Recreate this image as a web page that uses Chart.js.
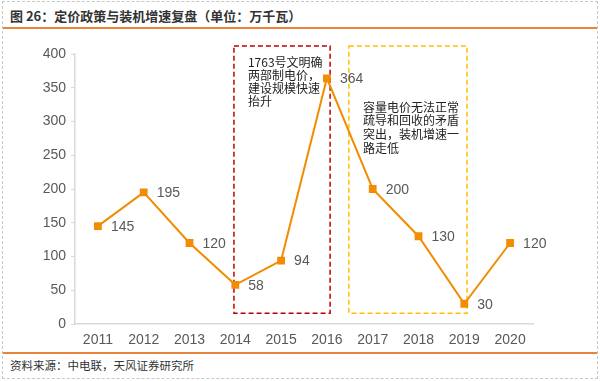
<!DOCTYPE html>
<html>
<head>
<meta charset="utf-8">
<script src="https://cdn.jsdelivr.net/npm/chart.js@4/dist/chart.umd.min.js"></script>
<style>
  html, body { margin: 0; padding: 0; background: #fff; }
  body { width: 600px; height: 381px; position: relative; overflow: hidden;
         font-family: "Noto Sans CJK SC", "Noto Sans", sans-serif; }
  #frame { position: absolute; left: 2px; top: 1px; width: 594px; height: 376px;
           border: 1px dashed #c8c8c8; }
  #title { position: absolute; left: 10px; top: 6px; font-size: 13px; font-weight: bold;
           color: #333; white-space: nowrap; }
  #titleLine { position: absolute; left: 3px; top: 27px; width: 594px; height: 2px; background: #E8833A; }
  #footLine { position: absolute; left: 3px; top: 352px; width: 594px; height: 2px; background: #E8833A; }
  #foot { position: absolute; left: 10px; top: 357px; font-size: 11.5px; color: #333; white-space: nowrap; }
  #wrap { position: absolute; left: 0; top: 30px; width: 600px; height: 322px; }
</style>
</head>
<body>
<div id="frame"></div>
<div id="title">图 26：定价政策与装机增速复盘（单位：万千瓦）</div>
<div id="titleLine"></div>
<div id="wrap"><canvas id="chart" width="600" height="322"></canvas></div>
<div id="footLine"></div>
<div id="foot">资料来源：中电联，天风证券研究所</div>
<script>
(function () {
  "use strict";

  var YEARS = ["2011", "2012", "2013", "2014", "2015", "2016", "2017", "2018", "2019", "2020"];
  var ADDED = [145, 195, 120, 58, 94, 364, 200, 130, 30, 120];
  var Y_TICKS = [0, 50, 100, 150, 200, 250, 300, 350, 400];

  var NOTE_RED = ["1763号文明确", "两部制电价，", "建设规模快速", "抬升"];
  var NOTE_YELLOW = ["容量电价无法正常", "疏导和回收的矛盾", "突出，装机增速一", "路走低"];

  var LINE_COLOR = "#F28C00";
  var LABEL_COLOR = "#595959";

  // boxes in category/value units
  var BOXES = [
    { from: 2.97, to: 5.07, lo: 16, hi: 412, color: "#C00000", text: NOTE_RED, textY: 388, lineH: 13.2 },
    { from: 5.48, to: 8.06, lo: 16, hi: 412, color: "#FFC000", text: NOTE_YELLOW, textY: 321, lineH: 13.6 }
  ];

  var pointLabels = {
    id: "pointLabels",
    afterDatasetsDraw: function (chart) {
      var ctx = chart.ctx;
      var meta = chart.getDatasetMeta(0);
      ctx.save();
      ctx.font = "14px 'Liberation Sans', Arial, sans-serif";
      ctx.fillStyle = LABEL_COLOR;
      ctx.textAlign = "left";
      ctx.textBaseline = "middle";
      meta.data.forEach(function (pt, i) {
        ctx.fillText(String(ADDED[i]), pt.x + 13, pt.y + 1);
      });
      ctx.restore();
    }
  };

  var noteBoxes = {
    id: "noteBoxes",
    beforeDatasetsDraw: function (chart) {
      var ctx = chart.ctx;
      var xs = chart.scales.x, ys = chart.scales.y;
      var step = xs.getPixelForValue(1) - xs.getPixelForValue(0);
      ctx.save();
      BOXES.forEach(function (b) {
        var x0 = xs.getPixelForValue(0) + b.from * step;
        var x1 = xs.getPixelForValue(0) + b.to * step;
        var y0 = ys.getPixelForValue(b.hi);
        var y1 = ys.getPixelForValue(b.lo);
        ctx.strokeStyle = b.color;
        ctx.lineWidth = 1.5;
        ctx.setLineDash([5, 3]);
        ctx.strokeRect(x0, y0, x1 - x0, y1 - y0);
        ctx.setLineDash([]);
        ctx.fillStyle = "#222";
        ctx.font = "12px 'Noto Sans CJK SC', sans-serif";
        ctx.textAlign = "left";
        ctx.textBaseline = "middle";
        var ty = ys.getPixelForValue(b.textY);
        for (var i = 0; i < b.text.length; i++) {
          ctx.fillText(b.text[i], x0 + 14, ty + i * b.lineH);
        }
      });
      ctx.restore();
    }
  };

  new Chart(document.getElementById("chart").getContext("2d"), {
    type: "line",
    data: {
      labels: YEARS,
      datasets: [{
        data: ADDED,
        borderColor: LINE_COLOR,
        backgroundColor: LINE_COLOR,
        borderWidth: 2,
        pointStyle: "rect",
        pointRadius: 5.5,
        pointBorderWidth: 0,
        tension: 0
      }]
    },
    options: {
      responsive: false,
      animation: false,
      events: [],
      layout: { padding: { top: 24, right: 67, left: 0, bottom: 0 } },
      plugins: { legend: { display: false }, tooltip: { enabled: false } },
      scales: {
        x: {
          offset: true,
          grid: { display: false, drawTicks: false },
          border: { color: "#d9d9d9", width: 1.5 },
          ticks: { color: LABEL_COLOR, padding: 8, font: { size: 14, family: "'Liberation Sans', Arial, sans-serif" } },
          afterFit: function (s) { s.height = 28; }
        },
        y: {
          min: 0,
          max: 400,
          afterBuildTicks: function (s) { s.ticks = Y_TICKS.map(function (v) { return { value: v }; }); },
          grid: { drawOnChartArea: false, tickLength: 4, color: "#d9d9d9" },
          border: { color: "#d9d9d9", width: 1.5 },
          ticks: { color: LABEL_COLOR, padding: 5, font: { size: 14, family: "'Liberation Sans', Arial, sans-serif" } },
          afterFit: function (s) { s.width = 75; }
        }
      }
    },
    plugins: [noteBoxes, pointLabels]
  });
})();
</script>
</body>
</html>
